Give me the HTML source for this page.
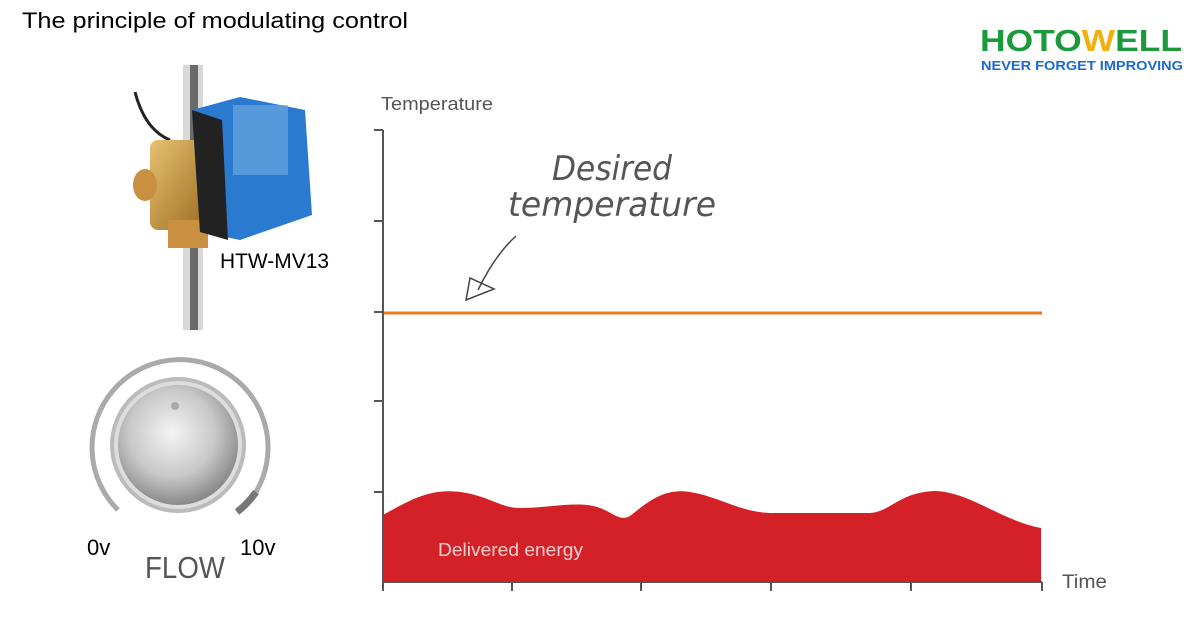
<!DOCTYPE html>
<html><head><meta charset="utf-8"><style>
body{margin:0;width:1203px;height:640px;background:#fff;overflow:hidden;font-family:"Liberation Sans",sans-serif}
</style></head><body>
<svg width="1203" height="640" xmlns="http://www.w3.org/2000/svg" style="position:absolute;left:0;top:0">
<defs>
<radialGradient id="knob" cx="0.45" cy="0.4" r="0.6"><stop offset="0" stop-color="#f4f4f4"/><stop offset="0.6" stop-color="#c8c8c8"/><stop offset="1" stop-color="#8a8a8a"/></radialGradient>
<linearGradient id="brass" x1="0" y1="0" x2="1" y2="1"><stop offset="0" stop-color="#e8c070"/><stop offset="1" stop-color="#9a6a20"/></linearGradient>
</defs>
<text x="22" y="28" font-size="22" fill="#000" textLength="386" lengthAdjust="spacingAndGlyphs">The principle of modulating control</text>
<text x="980" y="51" font-size="31" font-weight="bold" fill="#1a9a3a" textLength="202" lengthAdjust="spacingAndGlyphs">HOTO<tspan fill="#f0b010">W</tspan>ELL</text>
<text x="981" y="70" font-size="13" font-weight="bold" fill="#1a6ad0" textLength="202" lengthAdjust="spacingAndGlyphs">NEVER FORGET IMPROVING</text>
<rect x="183" y="65" width="20" height="265" fill="#d8d8d8"/><rect x="190" y="65" width="8" height="265" fill="#6a6a6a"/>
<path d="M135 92 Q145 130 170 140" stroke="#222" stroke-width="3" fill="none"/>
<rect x="150" y="140" width="60" height="90" rx="8" fill="url(#brass)"/>
<ellipse cx="145" cy="185" rx="12" ry="16" fill="#c89040"/>
<rect x="168" y="220" width="40" height="28" fill="#c89040"/>
<polygon points="192,110 240,97 305,110 312,215 240,240 200,232" fill="#2a7ad0"/>
<polygon points="192,110 222,120 228,240 200,232" fill="#222"/>
<rect x="233" y="105" width="55" height="70" fill="#6aa8e0" opacity="0.7"/>
<text x="220" y="268" font-size="21" fill="#000" textLength="109" lengthAdjust="spacingAndGlyphs">HTW-MV13</text>
<path d="M118 510 A88 88 0 1 1 256 492" stroke="#aaa" stroke-width="5" fill="none"/>
<path d="M237 512 A88 88 0 0 0 256 492" stroke="#777" stroke-width="7" fill="none"/>
<circle cx="178" cy="445" r="66" fill="#ddd" stroke="#bbb" stroke-width="4"/>
<circle cx="178" cy="445" r="60" fill="url(#knob)"/>
<circle cx="175" cy="406" r="4" fill="#aaa"/>
<text x="87" y="555" font-size="22" fill="#000">0v</text>
<text x="240" y="555" font-size="22" fill="#000">10v</text>
<text x="145" y="578" font-size="31" fill="#555" textLength="80" lengthAdjust="spacingAndGlyphs">FLOW</text>
<text x="381" y="110" font-size="18" fill="#555" textLength="112" lengthAdjust="spacingAndGlyphs">Temperature</text>
<path d="M383 515 C410 500 430 488 460 492 C490 496 500 508 520 508 C550 508 580 500 600 508 C612 512 620 522 630 516 C650 500 665 488 690 492 C720 497 740 512 770 513 L870 513 C890 512 900 492 935 491 C970 492 1000 520 1041 528 L1041 582 L383 582 Z" fill="#d42128"/>
<line x1="383" y1="130" x2="383" y2="584" stroke="#555" stroke-width="2"/>
<line x1="383" y1="582" x2="1042" y2="582" stroke="#555" stroke-width="2"/>
<g stroke="#555" stroke-width="2">
<line x1="374" y1="130" x2="383" y2="130"/><line x1="374" y1="221" x2="383" y2="221"/><line x1="374" y1="312" x2="383" y2="312"/><line x1="374" y1="401" x2="383" y2="401"/><line x1="374" y1="492" x2="383" y2="492"/>
<line x1="383" y1="582" x2="383" y2="591"/><line x1="512" y1="582" x2="512" y2="591"/><line x1="641" y1="582" x2="641" y2="591"/><line x1="771" y1="582" x2="771" y2="591"/><line x1="911" y1="582" x2="911" y2="591"/><line x1="1042" y1="582" x2="1042" y2="591"/>
</g>
<line x1="384" y1="313" x2="1042" y2="313" stroke="#e87a20" stroke-width="3"/>
<text x="438" y="556" font-size="18" fill="#f2d0d0" textLength="145" lengthAdjust="spacingAndGlyphs">Delivered energy</text>
<text x="1062" y="588" font-size="19" fill="#555" textLength="45" lengthAdjust="spacingAndGlyphs">Time</text>
<text x="552" y="180" font-size="34" fill="#555" font-style="italic" font-family="DejaVu Sans" textLength="120" lengthAdjust="spacingAndGlyphs">Desired</text>
<text x="508" y="216" font-size="34" fill="#555" font-style="italic" font-family="DejaVu Sans" textLength="208" lengthAdjust="spacingAndGlyphs">temperature</text>
<path d="M516 236 Q495 255 478 290" stroke="#444" stroke-width="1.5" fill="none"/>
<polygon points="466,300 470,278 494,289" fill="none" stroke="#444" stroke-width="1.5"/>
</svg>
</body></html>
